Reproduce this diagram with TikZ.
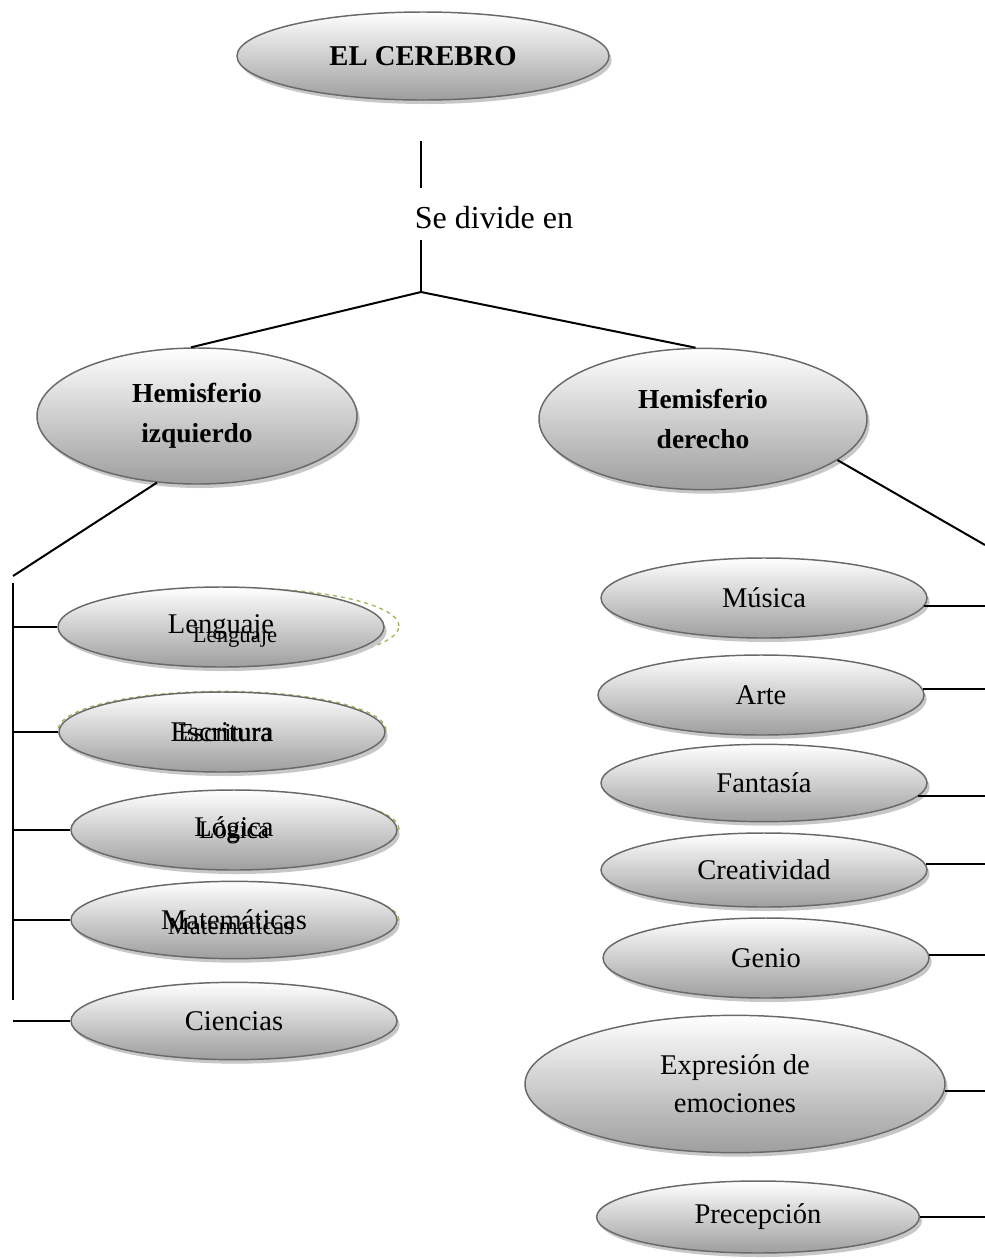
\documentclass[tikz,border=0pt]{standalone}
\usepackage{fontspec}
\setmainfont{Liberation Serif}
\usetikzlibrary{shapes.geometric,shadows}

\definecolor{ringgray}{RGB}{105,105,105}
\definecolor{fillbot}{RGB}{158,158,158}
\definecolor{ghostgreen}{RGB}{155,187,89}

\begin{document}
\begin{tikzpicture}[
    x=0.75pt,y=0.75pt,
    yscale=-1,xscale=1,
    every path/.append style={line width=1.5pt},
    blob/.style={
        ellipse, draw=ringgray, line width=1.1pt,
        top color=white, bottom color=fillbot,
        inner sep=0pt, align=center,
        minimum width=244.5pt, minimum height=60pt,
        font=\fontsize{21.4}{28.5}\selectfont,
        drop shadow={shadow xshift=2pt, shadow yshift=-3pt, fill=black!22, opacity=1},
    },
    hemiblob/.style={blob, minimum width=240pt, minimum height=102pt,
        font=\fontsize{20.6}{30}\selectfont\bfseries},
    ghostring/.style={ellipse, draw=ghostgreen, dashed, line width=1pt,
        minimum width=244.5pt, minimum height=58pt},
    ghostword/.style={inner sep=0pt, font=\fontsize{17}{20}\selectfont},
    linkword/.style={inner sep=0pt, font=\fontsize{24}{28}\selectfont},
]
    \useasboundingbox (0,0) rectangle (985,1258);

    % óvalos de arriba
    \node[blob, minimum width=279pt, minimum height=66pt,
        font=\fontsize{21.5}{26}\selectfont\bfseries] (cerebro) at (423,56) {EL CEREBRO};
    \node[linkword] (divide) at (494,218) {Se divide en};
    \node[hemiblob] (hizq) at (197,416) {Hemisferio\\izquierdo};
    \node[hemiblob, minimum width=246pt, minimum height=106pt] (hder) at (703,419) {Hemisferio\\derecho};

    % contornos verdes detrás
    \node[ghostring, minimum height=57pt] (lenguajeG) at (236,626) {};
    \node[ghostring, minimum width=246pt] (escrituraG) at (222,730) {};
    \node[ghostring, minimum width=246pt, minimum height=56pt] (logicaG) at (235,829) {};
    \node[ghostring, minimum height=54pt] (matematicasG) at (236,920) {};

    % lado izquierdo
    \node[blob] (lenguaje) at (221,627) {Lenguaje};
    \node[blob] (escritura) at (222,732) {Escritura};
    \node[blob] (logica) at (234,830) {Lógica};
    \node[blob, minimum height=58pt] (matematicas) at (234,920) {Matemáticas};
    \node[blob, minimum height=58pt] (ciencias) at (234,1021) {Ciencias};

    \node[ghostword] (lenguajeW) at (235,637) {Lenguaje};
    \node[ghostword, font=\fontsize{19.5}{22}\selectfont] (escrituraW) at (225,733) {Escritura};
    \node[ghostword, font=\fontsize{19}{22}\selectfont] (logicaW) at (234,832) {Lógica};
    \node[ghostword, font=\fontsize{18.5}{22}\selectfont] (matematicasW) at (231,926) {Matemáticas};

    % lado derecho
    \node[blob] (musica) at (764,598) {Música};
    \node[blob] (arte) at (761,695) {Arte};
    \node[blob, minimum height=58pt] (fantasia) at (764,783) {Fantasía};
    \node[blob, minimum height=55.5pt] (creatividad) at (764,870) {Creatividad};
    \node[blob] (genio) at (766,958) {Genio};
    \node[blob, minimum width=315pt, minimum height=103pt] (expresion) at (735,1084) {Expresión de\\emociones};
    \node[blob, minimum width=242pt, minimum height=54pt] (precepcion) at (758,1217) {Precepción};

    % puntos libres
    \coordinate (v1) at (421,141);
    \coordinate (v2) at (421,188);
    \coordinate (v3) at (421,240);
    \coordinate (split) at (421,292);
    \coordinate (lcorner) at (13,576);
    \coordinate (ltop) at (13,583);
    \coordinate (lbot) at (13,1000);
    \coordinate (rcorner) at (985,545);

    % líneas
    \draw (v1) -- (v2);
    \draw (v3) -- (split);
    \draw (split) -- (hizq.95);
    \draw (split) -- (hder.96);
    \draw (hizq.-121) -- (lcorner);
    \draw (ltop) -- (lbot);
    \foreach \n in {lenguaje,escritura,logica,matematicas,ciencias}
        \draw (\n.west) -- (\n.west -| ltop);
    \draw (hder.-17) -- (rcorner);
    \foreach \n/\a in {musica/-3,arte/2,fantasia/-5,creatividad/2,genio/1,expresion/-2,precepcion/0}
        \draw (\n.\a) -- (\n.\a -| rcorner);
\end{tikzpicture}
\end{document}
